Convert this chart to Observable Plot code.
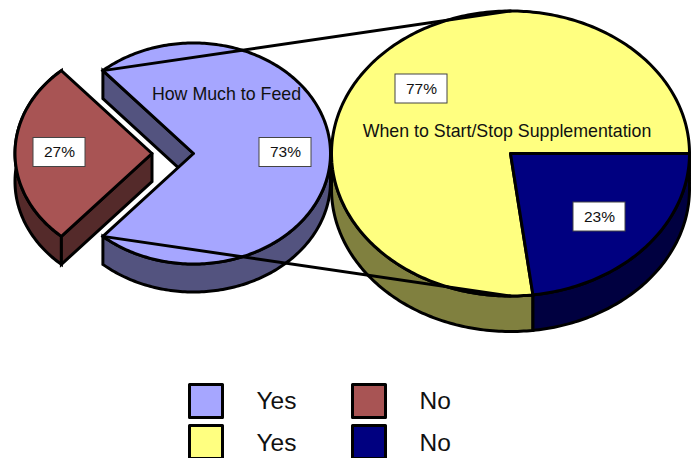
<!DOCTYPE html>
<html>
<head>
<meta charset="utf-8">
<style>html,body{margin:0;padding:0;background:#fff;overflow:hidden}svg{display:block}</style>
<script src="https://cdn.jsdelivr.net/npm/d3@7"></script>
<script src="https://cdn.jsdelivr.net/npm/@observablehq/plot@0.6"></script>
</head>
<body>
<script>
// Data
const feedCategories = ["Yes", "No"];
const feedValues = [73, 27];
const timingCategories = ["Yes", "No"];
const timingValues = [77, 23];
const feedTitle = "How Much to Feed";
const timingTitle = "When to Start/Stop Supplementation";

// Styles
const colors = {
  feedYes: ["#A6A6FF", "#53537F"],
  feedNo: ["#A85454", "#542A2A"],
  timingYes: ["#FFFF80", "#80803F"],
  timingNo: ["#000080", "#000040"]
};

// Layout
const leftPie = {cx: 193, cy: 153, rx: 137, ry: 110.5, depth: 28, explode: 41.5};
const rightPie = {cx: 510, cy: 153, rx: 179, ry: 142.5, depth: 35.5};

const rim = (p, t, dz = 0, dx = 0) => {
  const a = t * Math.PI / 180;
  return {x: p.cx - dx + p.rx * Math.cos(a), y: p.cy + p.ry * Math.sin(a) + dz};
};
const arc = (p, t0, t1, dz = 0, dx = 0) => {
  const n = Math.max(2, Math.ceil(Math.abs(t1 - t0)));
  return d3.range(n + 1).map(i => rim(p, t0 + (t1 - t0) * i / n, dz, dx));
};
const closed = pts => [...pts, pts[0]];
const sector = (p, t0, t1, dx = 0) =>
  closed([{x: p.cx - dx, y: p.cy}, ...arc(p, t0, t1, 0, dx)]);
const wall = (p, t0, t1, dx = 0) =>
  closed([...arc(p, t0, t1, 0, dx), ...arc(p, t1, t0, p.depth, dx)]);
const cutWall = (p, t, dx = 0) => closed([
  {x: p.cx - dx, y: p.cy}, rim(p, t, 0, dx), rim(p, t, p.depth, dx),
  {x: p.cx - dx, y: p.cy + p.depth}
]);

const deg = v => v * 3.6;
const halfNo = deg(feedValues[1]) / 2;
const feedNoStart = 180 - halfNo, feedNoEnd = 180 + halfNo;
const timingSplit = deg(timingValues[1]);
const ex = leftPie.explode;

const lineWidth = 3;
const shape = (points, fill) => Plot.line(points, {
  x: "x", y: "y", fill, stroke: "black", strokeWidth: lineWidth,
  strokeLinejoin: "miter", strokeMiterlimit: 10
});

const valueBoxes = [
  {x: 59, y: 152, label: feedValues[1] + "%"},
  {x: 285, y: 152, label: feedValues[0] + "%"},
  {x: 421, y: 88.5, label: timingValues[0] + "%"},
  {x: 599, y: 216.5, label: timingValues[1] + "%"}
];
const legendItems = [
  {x: 189.5, y: 384.5, textY: 400.5, fill: colors.feedYes[0], label: feedCategories[0]},
  {x: 352.5, y: 384.5, textY: 400.5, fill: colors.feedNo[0], label: feedCategories[1]},
  {x: 189.5, y: 425.5, textY: 443, fill: colors.timingYes[0], label: timingCategories[0]},
  {x: 352.5, y: 425.5, textY: 443, fill: colors.timingNo[0], label: timingCategories[1]}
];

const chart = Plot.plot({
  width: 696, height: 458,
  margin: 0,
  style: {background: "white", fontFamily: "'Liberation Sans', Arial, sans-serif"},
  x: {domain: [0, 696], range: [0, 696], axis: null},
  y: {domain: [0, 458], range: [0, 458], axis: null},
  marks: [
    // Exploded "No" slice of the left pie
    shape(wall(leftPie, feedNoStart, feedNoEnd, ex), colors.feedNo[1]),
    shape(cutWall(leftPie, feedNoStart, ex), colors.feedNo[1]),
    shape(sector(leftPie, feedNoStart, feedNoEnd, ex), colors.feedNo[0]),
    // "Yes" slice of the left pie
    shape(wall(leftPie, 0, feedNoStart), colors.feedYes[1]),
    shape(cutWall(leftPie, feedNoEnd), colors.feedYes[1]),
    shape(sector(leftPie, feedNoEnd, 360 + feedNoStart), colors.feedYes[0]),
    // Right pie
    shape(wall(rightPie, timingSplit, 180), colors.timingYes[1]),
    shape(wall(rightPie, 0, timingSplit), colors.timingNo[1]),
    shape(sector(rightPie, timingSplit, 360), colors.timingYes[0]),
    shape(sector(rightPie, 0, timingSplit), colors.timingNo[0]),
    // Connector lines
    Plot.line([rim(leftPie, feedNoEnd), rim(rightPie, 270)], {x: "x", y: "y", stroke: "black", strokeWidth: lineWidth}),
    Plot.line([rim(leftPie, feedNoStart), rim(rightPie, 90)], {x: "x", y: "y", stroke: "black", strokeWidth: lineWidth}),
    // Titles
    Plot.text([feedTitle], {x: 226, y: 94, text: d => d, fontSize: 17.8, fill: "#111"}),
    Plot.text([timingTitle], {x: 506.5, y: 131, text: d => d, fontSize: 17.8, fill: "#111"}),
    // Value labels
    Plot.rect(valueBoxes, {
      x1: d => d.x - 26, x2: d => d.x + 26, y1: d => d.y - 14.5, y2: d => d.y + 14.5,
      fill: "white", stroke: "#444", strokeWidth: 1
    }),
    Plot.text(valueBoxes, {x: "x", y: "y", text: "label", fontSize: 15.5, fill: "#111"}),
    // Legend
    Plot.rect(legendItems, {
      x1: "x", x2: d => d.x + 33, y1: "y", y2: d => d.y + 33,
      fill: "fill", stroke: "black", strokeWidth: 3, strokeLinejoin: "round"
    }),
    Plot.text(legendItems, {
      x: d => d.x + 66.5, y: "textY", text: "label",
      fontSize: 24.5, textAnchor: "start", fill: "#111"
    })
  ]
});
document.body.appendChild(chart);
</script>
</body>
</html>
